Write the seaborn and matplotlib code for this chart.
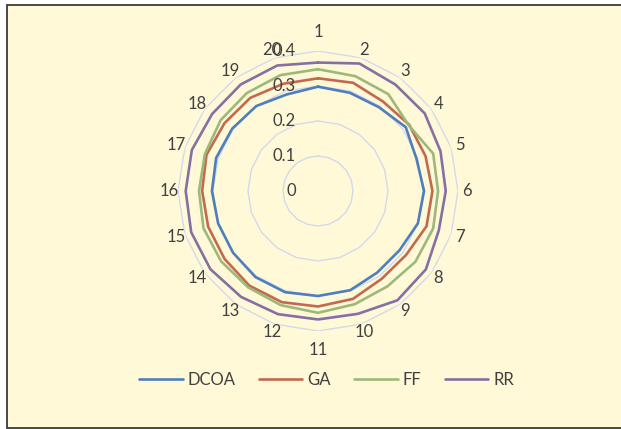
import numpy as np
import pandas as pd
import matplotlib
matplotlib.use("Agg")
import matplotlib.pyplot as plt
import seaborn as sns
from matplotlib.lines import Line2D
from matplotlib.patches import Rectangle

# Radar chart data: 20 test cases, four algorithms
categories = [str(i) for i in range(1, 21)]
dcoa = [0.298, 0.295, 0.296, 0.310, 0.296, 0.303, 0.300, 0.288, 0.288, 0.298,
        0.300, 0.304, 0.304, 0.300, 0.300, 0.303, 0.306, 0.303, 0.300, 0.290]
ga = [0.322, 0.325, 0.316, 0.322, 0.323, 0.327, 0.326, 0.311, 0.310, 0.324,
      0.330, 0.334, 0.334, 0.330, 0.330, 0.331, 0.335, 0.330, 0.329, 0.322]
ff = [0.348, 0.345, 0.342, 0.320, 0.346, 0.343, 0.346, 0.344, 0.337, 0.340,
      0.348, 0.343, 0.340, 0.342, 0.344, 0.340, 0.340, 0.344, 0.346, 0.348]
rr = [0.367, 0.383, 0.376, 0.377, 0.368, 0.365, 0.363, 0.381, 0.386, 0.369,
      0.367, 0.370, 0.374, 0.380, 0.381, 0.378, 0.379, 0.374, 0.376, 0.377]
series_names = ["DCOA", "GA", "FF", "RR"]
series_values = [dcoa, ga, ff, rr]
colors = ["#4E7EBB", "#C2694E", "#9DB97A", "#8470A3"]
radial_ticks = [0, 0.1, 0.2, 0.3, 0.4]

sns.set_theme(style="white")
plt.rcParams["font.family"] = ["Lato", "DejaVu Sans"]
text_color = "#404040"
fs = 12

W, H = 621, 429
fig = plt.figure(figsize=(W / 100, H / 100), dpi=100)
fig.patch.set_facecolor("white")
fig.patches.append(Rectangle((6.5 / W, 1.0 / H), 1.2, (428 - 5) / H,
                             transform=fig.transFigure, facecolor="#FFF9D8",
                             edgecolor="#3A3A3A", lw=1.3, zorder=-5))

cx, cy, R = 318, 191, 140
ax = fig.add_axes([(cx - R) / W, (H - cy - R) / H, 2 * R / W, 2 * R / H],
                  projection="polar")
ax.patch.set_alpha(0)
ax.set_theta_zero_location("N")
ax.set_theta_direction(-1)

n = len(categories)
theta = np.linspace(0, 2 * np.pi, n, endpoint=False)
theta_closed = np.append(theta, 2 * np.pi)

# polygonal gridlines
for r in radial_ticks[1:]:
    ax.plot(theta_closed, [r] * (n + 1), color="#D3D9EC", lw=1.0, zorder=1)

rows = []
for name, vals in zip(series_names, series_values):
    closed = list(vals) + [vals[0]]
    for t, v in zip(theta_closed, closed):
        rows.append({"theta": t, "value": v, "series": name})
df = pd.DataFrame(rows)

sns.lineplot(data=df, x="theta", y="value", hue="series", hue_order=series_names,
             palette=colors, sort=False, estimator=None, lw=1.9, ax=ax,
             legend=False, zorder=3)

ax.set_ylim(0, 0.4)
ax.set_xticks([])
ax.set_yticks([])
ax.set_xlabel("")
ax.set_ylabel("")
ax.grid(False)
ax.spines["polar"].set_visible(False)

# category labels around the outside
for t, lab in zip(theta, categories):
    r_lab = 0.425 + (0.028 if abs(np.cos(t)) > 0.99 else 0.0)
    ax.text(t, r_lab, lab, ha="center", va="center", fontsize=fs,
            color=text_color, clip_on=False)

# radial value labels along the vertical axis
for v in radial_ticks:
    ax.annotate(f"{v:g}", xy=(0, v), xytext=(-22, 0), textcoords="offset pixels",
                ha="right", va="center", fontsize=fs, color=text_color,
                annotation_clip=False)

handles = [Line2D([], [], color=c, lw=1.9) for c in colors]
fig.legend(handles, series_names, loc="center", bbox_to_anchor=(0.526, 0.114),
           ncol=4, frameon=False, handlelength=2.6, columnspacing=1.4,
           handletextpad=0.3, fontsize=fs, labelcolor=text_color)

fig.savefig("out.png", dpi=100, facecolor=fig.get_facecolor())
